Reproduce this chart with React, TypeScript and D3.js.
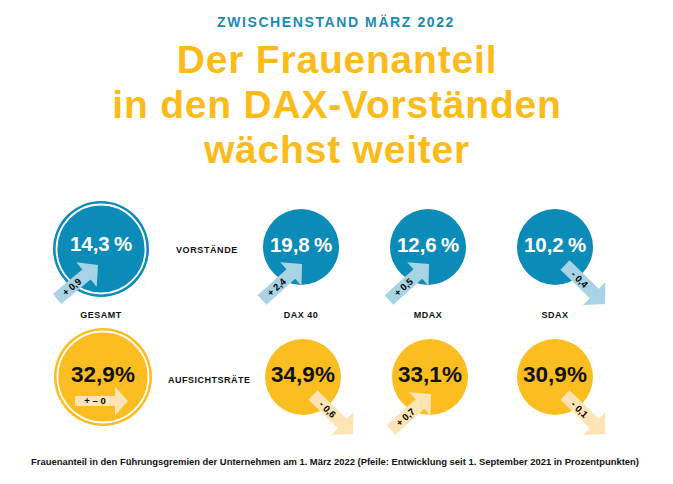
import React from "react";
import * as d3 from "d3";

const groups = ["GESAMT", "DAX 40", "MDAX", "SDAX"];
const vorstaende = [14.3, 19.8, 12.6, 10.2];
const vorstaendeChange = [0.9, 2.4, 0.5, -0.4];
const aufsichtsraete = [32.9, 34.9, 33.1, 30.9];
const aufsichtsraeteChange = [0, -0.6, 0.7, -0.1];
const rowLabels = ["VORSTÄNDE", "AUFSICHTSRÄTE"];

const W = 673;
const H = 484;
const BLUE = "#0b8bb7";
const BLUE_LIGHT = "#a8d3e4";
const YELLOW = "#fbbd1f";
const YELLOW_LIGHT = "#fee4b4";
const TITLE_YELLOW = "#fbbb1b";
const SUB_BLUE = "#1a8ab5";
const FONT = "'Liberation Sans', Arial, sans-serif";

const locale = d3.formatLocale({ decimal: ",", thousands: ".", grouping: [3], currency: ["", "€"] });
const f1 = locale.format(".1f");

const xPos = d3.scaleOrdinal<string, number>().domain(groups).range([101, 301, 428, 555]);
const rowY = [247, 377];

function changeLabel(v: number) {
  if (v === 0) return "+ – 0";
  return (v > 0 ? "+ " : "- ") + f1(Math.abs(v));
}

type ArrowProps = { x1: number; y1: number; x2: number; y2: number; fill: string; label: string; sw?: number; hw?: number; hl?: number };

function Arrow({ x1, y1, x2, y2, fill, label, sw = 13, hw = 32, hl = 15 }: ArrowProps) {
  const L = Math.hypot(x2 - x1, y2 - y1);
  const ang = (Math.atan2(y2 - y1, x2 - x1) * 180) / Math.PI;
  const pts: [number, number][] = [
    [0, -sw / 2], [L - hl, -sw / 2], [L - hl, -hw / 2], [L, 0], [L - hl, hw / 2], [L - hl, sw / 2], [0, sw / 2],
  ];
  const line = d3.line();
  return (
    <g transform={`translate(${x1},${y1}) rotate(${ang})`}>
      <path d={line(pts) + "Z"} fill={fill} />
      <text x={(L - hl) / 2} y={0} dy="0.36em" textAnchor="middle" fontFamily={FONT} fontWeight="bold" fontSize={9.5} fill="#000">
        {label}
      </text>
    </g>
  );
}

function Bubble({ cx, cy, r, big, color, light, text, textColor, change, row }: any) {
  let arrow = null;
  if (row === 1 && big) {
    arrow = <Arrow x1={cx - 28} y1={cy + 24} x2={cx + 25} y2={cy + 24} fill={light} label={change} sw={10} hw={29} hl={13} />;
  } else if (change.startsWith("+")) {
    const t = big ? [-44, 50, -3, 16] : [-39, 53, 1, 17];
    arrow = <Arrow x1={cx + t[0]} y1={cy + t[1]} x2={cx + t[2]} y2={cy + t[3]} fill={light} label={change} />;
  } else {
    arrow = <Arrow x1={cx + 10} y1={cy + 18} x2={cx + 50} y2={cy + 57} fill={light} label={change} />;
  }
  const ty = cy - (row === 0 && big ? 5 : row === 0 ? 2 : 3);
  return (
    <g>
      <circle cx={cx} cy={cy} r={r} fill={color} />
      {big && <circle cx={cx} cy={cy} r={r - 3.5} fill="none" stroke="#fff" strokeWidth={1.8} />}
      <text x={cx} y={ty} dy="0.36em" textAnchor="middle" fontFamily={FONT} fontWeight="bold" fontSize={row === 0 ? 20.5 : 22.5} fill={textColor}>
        {text}
      </text>
      {arrow}
    </g>
  );
}

export default function App() {
  return (
    <svg width={W} height={H} style={{ position: "absolute", left: 0, top: 0, background: "#fff" }}>
      <text x={336} y={27} textAnchor="middle" fontFamily={FONT} fontWeight="bold" fontSize={14} letterSpacing={1.6} fill={SUB_BLUE}>
        ZWISCHENSTAND MÄRZ 2022
      </text>
      {["Der Frauenanteil", "in den DAX-Vorständen", "wächst weiter"].map((t, i) => (
        <text key={t} x={337} y={73 + i * 45} textAnchor="middle" fontFamily={FONT} fontWeight="bold" fontSize={39} letterSpacing={0.8} fill={TITLE_YELLOW}>
          {t}
        </text>
      ))}
      {groups.map((g, i) => (
        <Bubble key={"v" + g} cx={xPos(g)} cy={i === 0 ? 249 : rowY[0]} r={i === 0 ? 48 : 38} big={i === 0} color={BLUE} light={BLUE_LIGHT}
          text={f1(vorstaende[i]) + "\u2009%"} textColor="#fff" change={changeLabel(vorstaendeChange[i])} row={0} />
      ))}
      {groups.map((g, i) => (
        <Bubble key={"a" + g} cx={i === 0 ? 103 : xPos(g) + (i === 2 ? 2 : i === 1 ? 2 : 0)} cy={rowY[1]} r={i === 0 ? 49 : 38} big={i === 0} color={YELLOW} light={YELLOW_LIGHT}
          text={f1(aufsichtsraete[i]) + "%"} textColor="#111" change={changeLabel(aufsichtsraeteChange[i])} row={1} />
      ))}
      <text x={176} y={253} fontFamily={FONT} fontWeight="bold" fontSize={9} letterSpacing={0.6} fill="#111">{rowLabels[0]}</text>
      <text x={168} y={383} fontFamily={FONT} fontWeight="bold" fontSize={9} letterSpacing={0.5} fill="#111">{rowLabels[1]}</text>
      {groups.map((g) => (
        <text key={"l" + g} x={xPos(g)} y={318} textAnchor="middle" fontFamily={FONT} fontWeight="bold" fontSize={9} letterSpacing={0.5} fill="#111">
          {g}
        </text>
      ))}
      <text x={335} y={465} textAnchor="middle" fontFamily={FONT} fontWeight="bold" fontSize={9.5} textLength={608} lengthAdjust="spacingAndGlyphs" fill="#111">
        Frauenanteil in den Führungsgremien der Unternehmen am 1. März 2022 (Pfeile: Entwicklung seit 1. September 2021 in Prozentpunkten)
      </text>
    </svg>
  );
}
